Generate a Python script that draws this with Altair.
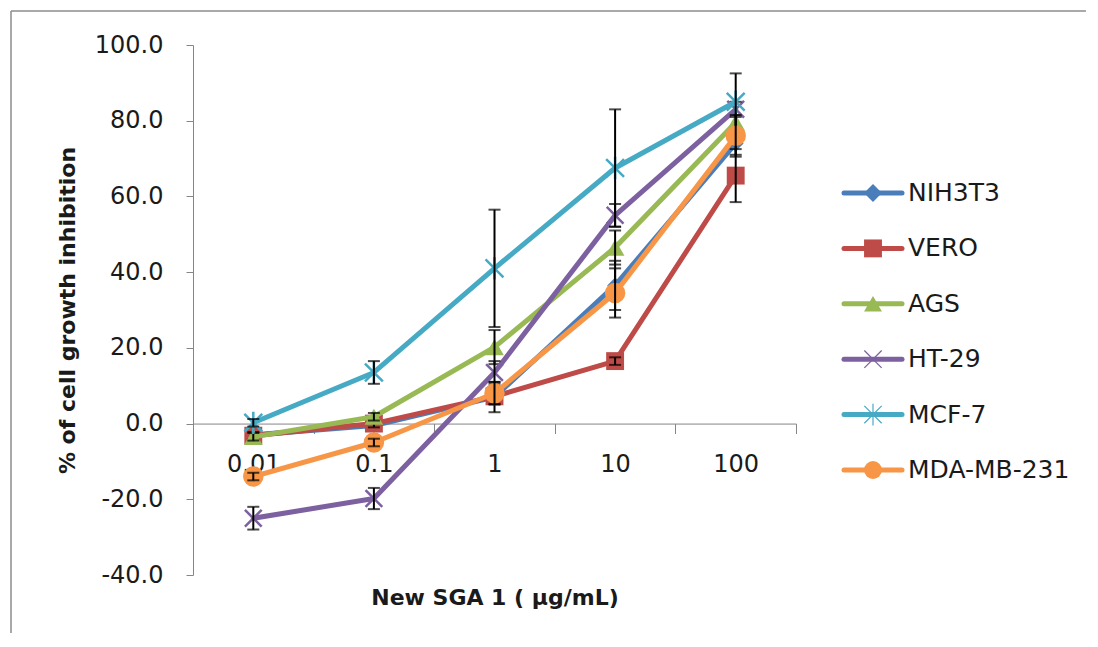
import altair as alt
import pandas as pd

# ---------------- data ----------------
conc = ["0.01", "0.1", "1", "10", "100"]
series = ["NIH3T3", "VERO", "AGS", "HT-29", "MCF-7", "MDA-MB-231"]

nih3t3 = [-3.0, -0.5, 7.0, 36.5, 74.0]
vero = [-3.2, 0.0, 7.2, 16.5, 65.5]
ags = [-3.5, 1.8, 20.2, 46.5, 79.5]
ht29 = [-25.0, -19.8, 13.5, 55.0, 83.0]
mcf7 = [0.2, 13.5, 41.0, 67.5, 85.0]
mda = [-14.0, -5.0, 8.0, 34.5, 76.0]

nih3t3_err = [1.0, 1.0, 4.0, 6.5, 3.0]
vero_err = [1.0, 1.0, 2.0, 1.0, 7.0]
ags_err = [1.0, 1.0, 4.5, 4.5, 2.0]
ht29_err = [3.0, 2.8, 3.0, 3.0, 2.0]
mcf7_err = [1.0, 3.0, 15.5, 15.5, 7.5]
mda_err = [1.0, 1.0, 3.0, 6.5, 5.5]

colors = ["#4A7EBB", "#BE4B48", "#98B954", "#7D60A0", "#46AAC5", "#F79646"]
X_PATH = "M-1,-1L1,1M-1,1L1,-1"
STAR_PATH = "M-1,-1L1,1M-1,1L1,-1M0,-1.25L0,1.25"
shapes = ["diamond", "square", "triangle-up", X_PATH, STAR_PATH, "circle"]
sizes = [250, 320, 350, 280, 320, 420]
filled = [True, True, True, False, False, True]

values = [nih3t3, vero, ags, ht29, mcf7, mda]
errors = [nih3t3_err, vero_err, ags_err, ht29_err, mcf7_err, mda_err]

rows = []
for s, vals, errs in zip(series, values, errors):
    for c, v, e in zip(conc, vals, errs):
        rows.append({"series": s, "conc": c, "value": v, "lo": v - e, "hi": v + e})
df = pd.DataFrame(rows)

W, H = 603, 530
FONT = "DejaVu Sans"
AXIS_GREY = "#868686"
NOVIEW = alt.ViewBackground(stroke="transparent", strokeWidth=0)

xenc = alt.X(
    "conc:N",
    sort=conc,
    scale=alt.Scale(type="band", domain=conc, paddingInner=0, paddingOuter=0),
    axis=alt.Axis(
        title="New SGA 1 ( µg/mL)",
        labelAngle=0,
        labelFontSize=24,
        labelFont=FONT,
        labelColor="#1a1a1a",
        labelPadding=19,
        tickBand="extent",
        tickSize=10,
        tickColor=AXIS_GREY,
        domainColor=AXIS_GREY,
        offset=-H * 40 / 140,
        titleFont=FONT,
        titleFontSize=22,
        titleFontWeight="bold",
        titleColor="#1a1a1a",
        titlePadding=111,
        grid=False,
    ),
)


def yenc(field):
    return alt.Y(
        f"{field}:Q",
        scale=alt.Scale(domain=[-40, 100], nice=False, zero=False),
        axis=alt.Axis(
            title="% of cell growth inhibition",
            values=[-40, -20, 0, 20, 40, 60, 80, 100],
            labelExpr="replace(format(datum.value, '.1f'), '\u2212', '-')",
            labelFontSize=24,
            labelFont=FONT,
            labelColor="#1a1a1a",
            labelPadding=23,
            tickSize=7,
            tickColor=AXIS_GREY,
            domainColor=AXIS_GREY,
            titleFont=FONT,
            titleFontSize=22,
            titleFontWeight="bold",
            titleColor="#1a1a1a",
            titlePadding=15,
            grid=False,
        ),
    )


base = alt.Chart(df)
layers = []
for s, col, shp, sz, fl in zip(series, colors, shapes, sizes, filled):
    sub = base.transform_filter(alt.datum.series == s)
    layers.append(
        sub.mark_line(color=col, strokeWidth=5, strokeJoin="round", strokeCap="round").encode(
            x=xenc, y=yenc("value")
        )
    )
    if fl:
        pm = sub.mark_point(shape=shp, size=sz, filled=True, color=col, opacity=1)
    else:
        pm = sub.mark_point(shape=shp, size=sz, filled=False, color=col, strokeWidth=2.5, opacity=1)
    layers.append(pm.encode(x=xenc, y=yenc("value")))
    layers.append(
        sub.mark_rule(color="black", strokeWidth=2).encode(x=xenc, y=yenc("lo"), y2="hi:Q")
    )
    layers.append(
        sub.mark_tick(color="black", size=12, thickness=2).encode(x=xenc, y=yenc("lo"))
    )
    layers.append(
        sub.mark_tick(color="black", size=12, thickness=2).encode(x=xenc, y=yenc("hi"))
    )

# chart frame (top and left border lines)
frame_top = alt.Chart(pd.DataFrame({"f": [0]})).mark_rule(color="#8c8c8c", strokeWidth=1.5).encode(
    x=alt.value(-182), x2=alt.value(W), y=alt.value(-34)
)
frame_left = alt.Chart(pd.DataFrame({"f": [0]})).mark_rule(color="#8c8c8c", strokeWidth=1.5).encode(
    x=alt.value(-182), y=alt.value(-34), y2=alt.value(588)
)

main = alt.layer(*layers, frame_top, frame_left).properties(width=W, height=H, view=NOVIEW)

# ---------------- manual legend ----------------
leg_df = pd.DataFrame({"series": series})
LW = 290
yleg = alt.Y(
    "series:N",
    sort=series,
    scale=alt.Scale(type="point", domain=series, range=[148, 425], padding=0),
    axis=None,
)
cleg = alt.Color("series:N", scale=alt.Scale(domain=series, range=colors), legend=None)
sleg = alt.Shape("series:N", scale=alt.Scale(domain=series, range=shapes), legend=None)

leg_line = alt.Chart(leg_df).mark_rule(strokeWidth=5, strokeCap="round").encode(
    x=alt.value(48), x2=alt.value(106), y=yleg, color=cleg
)
leg_filled = (
    alt.Chart(leg_df)
    .transform_filter(alt.FieldOneOfPredicate(field="series", oneOf=["NIH3T3", "VERO", "AGS", "MDA-MB-231"]))
    .mark_point(filled=True, size=320, opacity=1)
    .encode(x=alt.value(77), y=yleg, color=cleg, shape=sleg)
)
leg_stroked = (
    alt.Chart(leg_df)
    .transform_filter(alt.FieldOneOfPredicate(field="series", oneOf=["HT-29", "MCF-7"]))
    .mark_point(filled=False, size=300, strokeWidth=1.2, opacity=1)
    .encode(x=alt.value(77), y=yleg, color=cleg, shape=sleg)
)
leg_text = alt.Chart(leg_df).mark_text(
    align="left", baseline="middle", fontSize=25, font=FONT, color="#1a1a1a"
).encode(x=alt.value(112), y=yleg, text="series:N")
leg_top = alt.Chart(pd.DataFrame({"f": [0]})).mark_rule(color="#8c8c8c", strokeWidth=1.5).encode(
    x=alt.value(0), x2=alt.value(LW), y=alt.value(-34)
)

legend = alt.layer(leg_line, leg_filled, leg_stroked, leg_text, leg_top).properties(
    width=LW, height=H, view=NOVIEW
)

chart = (
    alt.hconcat(main, legend, spacing=0, bounds="flush")
    .resolve_scale(color="independent", shape="independent", y="independent", x="independent")
    .properties(padding={"left": 2, "top": 2, "right": 0, "bottom": 0})
    .configure_view(strokeWidth=0, stroke="transparent")
    .configure(background="white")
)

chart.save("out.html", embed_options={"renderer": "svg", "actions": False})
